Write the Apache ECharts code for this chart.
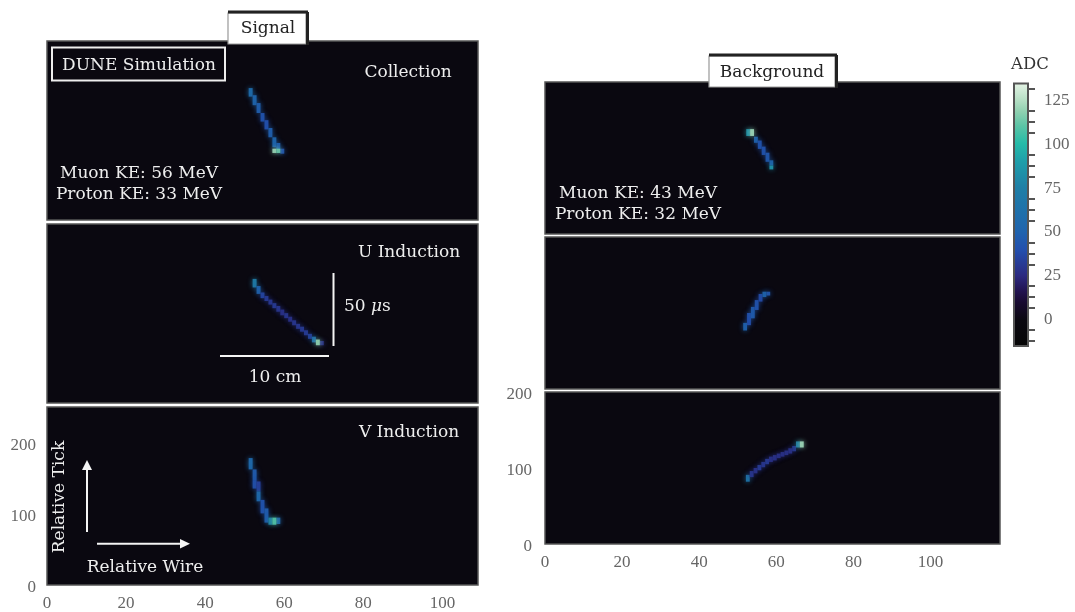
<!DOCTYPE html>
<html>
<head>
<meta charset="utf-8">
<style>html,body{margin:0;padding:0;background:#fff}#c{width:1075px;height:612px}</style>
<script src="https://cdn.jsdelivr.net/npm/echarts@6/dist/echarts.min.js"></script>
</head>
<body>
<div id="c"></div>
<script>
// Tick labels
const signalWireTicks = [0, 20, 40, 60, 80, 100];
const signalTickTicks = [0, 100, 200];
const backgroundWireTicks = [0, 20, 40, 60, 80, 100];
const backgroundTickTicks = [0, 100, 200];
const adcMajorTicks = [0, 25, 50, 75, 100, 125];
const adcMinorTicks = [-12.5, -6.25, 6.25, 12.5, 18.75, 31.25, 37.5, 43.75, 56.25, 62.5, 68.75, 81.25, 87.5, 93.75, 106.25, 112.5, 118.75, 131.25];

// ADC colour scale (value, colour)
const adcStops = [-15.4, 0, 10, 16, 25, 40, 50, 75, 90, 100, 110, 118, 125, 134.5];
const adcColors = ['#050505', '#0a0810', '#180a30', '#21124e', '#2c2a80', '#2350ae', '#2064ae', '#1f7fa6', '#1f9faa', '#26bba8', '#5cc4a6', '#8fd0b0', '#b8e0c6', '#e6f4e6'];
const adcRange = [[-15.4, 134.5]];

// Tracks: [wire, tick low, tick high, ADC]
const signalCollection = [
  [51, 173, 185, 58], [52, 161, 175, 52], [53, 150, 164, 48], [54, 138, 150, 42], [55, 127, 140, 40],
  [56, 116, 129, 48], [57, 102, 116, 52], [58, 98, 108, 48], [59, 93, 100, 42], [57, 94, 100, 120], [58, 94, 100, 112]
];
const signalU = [
  [52, 162, 174, 72], [53, 153, 164, 50], [54, 147, 155, 36], [55, 143, 150, 32], [56, 138, 145, 30], [57, 133, 140, 32],
  [58, 128, 136, 30], [59, 123, 131, 28], [60, 119, 126, 30], [61, 114, 121, 28], [62, 109, 116, 30], [63, 104, 111, 30],
  [64, 100, 107, 32], [65, 95, 102, 32], [66, 90, 97, 34], [69, 81, 87, 28], [67, 85, 93, 62], [68, 81, 89, 118]
];
const signalV = [
  [51, 163, 179, 56], [52, 148, 163, 46], [52, 136, 148, 42], [53, 132, 146, 34], [53, 118, 132, 56], [54, 101, 120, 42],
  [55, 88, 108, 46], [56, 85, 95, 76], [58, 86, 95, 52], [57, 85, 95, 108]
];
const backgroundCollection = [
  [54.2, 120, 128, 50], [55.2, 112, 123, 42], [56.2, 104, 115, 42], [57.2, 95, 107, 44], [58.2, 90, 97, 50], [58.2, 85, 90, 85], [52.2, 129, 138, 85], [53.2, 129, 138, 120]
];
const backgroundU = [
  [51.4, 77, 87, 50], [52.4, 84, 100, 40], [53.4, 93, 108, 46], [54.4, 104, 117, 42], [55.4, 115, 125, 38], [56.4, 121, 128, 52], [57.4, 123, 128, 44]
];
const backgroundV = [
  [52.1, 82, 91, 66], [53.1, 88, 96, 30], [54.1, 93, 100, 28], [55.1, 97, 104, 32], [56.1, 101, 108, 30], [57.1, 105, 112, 32], [58.1, 108, 115, 28],
  [59.1, 110, 117, 28], [60.1, 113, 119, 28], [61.1, 115, 121, 28], [62.1, 117, 123, 28], [63.1, 119, 126, 28], [64.1, 122, 129, 30], [65.1, 127, 135, 76], [66.1, 127, 135, 120]
];

const serifTick = 'Liberation Serif';
const slab = 'DejaVu Serif';
const bg = '#0a0810';
const edge = '#555';
const tickColor = '#666';

function adcColor(v) {
  for (let i = 1; i < adcStops.length; i++) {
    if (v <= adcStops[i]) {
      const t = (v - adcStops[i - 1]) / (adcStops[i] - adcStops[i - 1]);
      return echarts.color.lerp(t, [adcColors[i - 1], adcColors[i]]);
    }
  }
  return adcColors[adcColors.length - 1];
}

// Y tick label style: pushed slightly down so the digits sit centred on the tick
function yLabel(values, margin, pad) {
  return { customValues: values, margin: margin, formatter: v => '{a|' + v + '}',
    rich: { a: { color: tickColor, fontFamily: serifTick, fontSize: 17, padding: [pad, 0, 0, 0] } } };
}

const panels = [
  { d: signalCollection, left: 47, top: 41, w: 431, h: 179, xMax: 109, yMax: 251 },
  { d: signalU, left: 47, top: 224, w: 431, h: 179, xMax: 109, yMax: 251 },
  { d: signalV, left: 47, top: 407, w: 431, h: 180, xMax: 109, yMax: 251, xl: signalWireTicks, yl: signalTickTicks },
  { d: backgroundCollection, left: 545, top: 82, w: 455, h: 152, xMax: 118, yMax: 200 },
  { d: backgroundU, left: 545, top: 237, w: 455, h: 152, xMax: 118, yMax: 200 },
  { d: backgroundV, left: 545, top: 392, w: 455, h: 152, xMax: 118, yMax: 200, xl: backgroundWireTicks, yl: backgroundTickTicks, yMargin: 13 }
];

const grid = [], xAxis = [], yAxis = [], series = [];
panels.forEach((p, i) => {
  grid.push({ show: true, left: p.left, top: p.top, width: p.w, height: p.h, backgroundColor: bg, borderColor: edge, borderWidth: 1.5 });
  xAxis.push({
    type: 'value', gridIndex: i, min: 0, max: p.xMax, splitLine: { show: false }, axisLine: { show: false }, axisTick: { show: false },
    axisLabel: p.xl ? { customValues: p.xl, color: tickColor, fontFamily: serifTick, fontSize: 17, margin: 10 } : { show: false }
  });
  yAxis.push({
    type: 'value', gridIndex: i, min: 0, max: p.yMax, splitLine: { show: false }, axisLine: { show: false }, axisTick: { show: false },
    axisLabel: p.yl ? yLabel(p.yl, p.yMargin || 11, 5) : { show: false }
  });
  series.push({
    type: 'custom', xAxisIndex: i, yAxisIndex: i, data: p.d, clip: true, silent: true,
    encode: { x: 0, y: [1, 2] },
    renderItem: (params, api) => {
      const a = api.coord([api.value(0), api.value(2)]);
      const b = api.coord([api.value(0) + 1, api.value(1)]);
      const fill = adcColor(api.value(3));
      return { type: 'rect', shape: { x: a[0], y: a[1], width: b[0] - a[0], height: b[1] - a[1] },
        style: { fill: fill, opacity: 0.92, shadowBlur: 5, shadowColor: fill } };
    }
  });
});

// Colour bar
grid.push({ show: false, left: 1014, top: 83.5, width: 14, height: 262.5 });
xAxis.push({ type: 'value', gridIndex: 6, min: 0, max: 1, show: false });
yAxis.push({
  type: 'value', gridIndex: 6, position: 'right', min: -15.4, max: 134.5, splitLine: { show: false }, axisLine: { show: false },
  axisTick: { show: true, customValues: adcMajorTicks, length: 10, lineStyle: { color: edge, width: 2 } },
  axisLabel: yLabel(adcMajorTicks, 16, 1)
});
yAxis.push({
  type: 'value', gridIndex: 6, position: 'right', min: -15.4, max: 134.5, splitLine: { show: false }, axisLine: { show: false },
  axisTick: { show: true, customValues: adcMinorTicks, length: 7, lineStyle: { color: edge, width: 2 } },
  axisLabel: { show: false }
});
series.push({
  type: 'custom', xAxisIndex: 6, yAxisIndex: 6, data: adcRange, silent: true, clip: false,
  encode: { y: [0, 1] },
  renderItem: (params, api) => {
    const a = api.coord([0, api.value(1)]);
    const b = api.coord([1, api.value(0)]);
    const lo = api.value(0), hi = api.value(1);
    const stops = adcStops.map((s, i) => ({ offset: (hi - s) / (hi - lo), color: adcColors[i] })).reverse();
    return { type: 'rect', shape: { x: a[0], y: a[1], width: b[0] - a[0], height: b[1] - a[1] },
      style: { fill: new echarts.graphic.LinearGradient(0, 0, 0, 1, stops), stroke: edge, lineWidth: 2 } };
  }
});

function label(text, x, y, color, size, extra) {
  return Object.assign({ type: 'text', x: x, y: y, z: 20, silent: true,
    style: { text: text, fill: color, font: (size || 17) + 'px "' + slab + '"', textAlign: 'center', textVerticalAlign: 'middle' } }, extra || {});
}
const white = '#eeeeee', dark = '#222';
function roughBox(x, y, w, h) {
  // white tag with a scratchy dark edge, heavier on the top and right
  return [
    { type: 'rect', z: 18, silent: true, shape: { x: x, y: y, width: w, height: h }, style: { fill: '#fff', stroke: '#999', lineWidth: 1.2 } },
    { type: 'line', z: 19, silent: true, shape: { x1: x, y1: y - 1, x2: x + w + 2, y2: y - 1 }, style: { stroke: '#222', lineWidth: 3 } },
    { type: 'line', z: 19, silent: true, shape: { x1: x + w + 1.5, y1: y - 1, x2: x + w + 1.5, y2: y + h + 1 }, style: { stroke: '#222', lineWidth: 3 } }
  ];
}
const graphic = [
  ...roughBox(228, 13, 78, 31),
  ...roughBox(709, 56, 126, 31),
  { type: 'rect', z: 19, silent: true, shape: { x: 52, y: 47.5, width: 173, height: 33 }, style: { fill: 'none', stroke: '#eee', lineWidth: 2 } },
  label('Signal', 268, 29, dark),
  label('Background', 772, 73, dark),
  label('DUNE Simulation', 139, 66, white),
  label('Collection', 408, 73, white),
  label('U Induction', 409, 253, white),
  label('V Induction', 409, 433, white),
  label('Muon KE: 56 MeV', 139, 174, white),
  label('Proton KE: 33 MeV', 139, 195, white),
  label('Muon KE: 43 MeV', 638, 194, white),
  label('Proton KE: 32 MeV', 638, 215, white),
  label('10 cm', 275, 378, white),
  { type: 'text', x: 344, y: 307, z: 20, silent: true, style: { text: '50 {i|\u03bc}s', fill: white, font: '17px "' + slab + '"', textVerticalAlign: 'middle',
      rich: { i: { fill: white, font: 'italic 17px "' + slab + '"' } } } },
  label('Relative Wire', 145, 568, white),
  label('Relative Tick', 60, 497, white, 17, { rotation: Math.PI / 2 }),
  label('ADC', 1030, 65, '#333', 16.5),
  // Scale bars
  { type: 'line', z: 20, silent: true, shape: { x1: 333.5, y1: 273, x2: 333.5, y2: 346 }, style: { stroke: '#f5f5f5', lineWidth: 2 } },
  { type: 'line', z: 20, silent: true, shape: { x1: 220, y1: 356, x2: 329, y2: 356 }, style: { stroke: '#f5f5f5', lineWidth: 2 } },
  // Direction arrows
  { type: 'line', z: 20, silent: true, shape: { x1: 87, y1: 532, x2: 87, y2: 468 }, style: { stroke: '#f5f5f5', lineWidth: 2 } },
  { type: 'polygon', z: 20, silent: true, shape: { points: [[87, 460], [82, 470], [92, 470]] }, style: { fill: '#f5f5f5' } },
  { type: 'line', z: 20, silent: true, shape: { x1: 97, y1: 543.7, x2: 182, y2: 543.7 }, style: { stroke: '#f5f5f5', lineWidth: 2 } },
  { type: 'polygon', z: 20, silent: true, shape: { points: [[190, 543.7], [180, 539], [180, 548.5]] }, style: { fill: '#f5f5f5' } }
];

const chart = echarts.init(document.getElementById('c'), null, { renderer: 'canvas' });
chart.setOption({ animation: false, backgroundColor: '#fff', grid, xAxis, yAxis, series, graphic });
</script>
</body>
</html>
